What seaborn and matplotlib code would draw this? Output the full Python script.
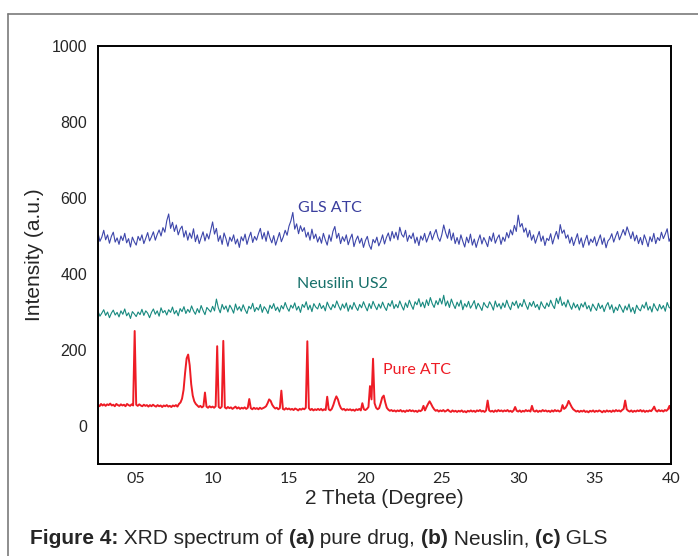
import numpy as np
import pandas as pd
import seaborn as sns
import matplotlib
matplotlib.use("Agg")
import matplotlib.pyplot as plt
from matplotlib.lines import Line2D

# ---------------- data ----------------
# GLS ATC, 2θ from 2.5 to 40.0 in 0.125° steps
gls_atc = [
    508, 486, 497, 515,
    490, 503, 481, 499, 510, 484, 495, 478,
    500, 488, 507, 482, 493, 471, 497, 485,
    476, 499, 488, 503, 480, 494, 509, 487,
    498, 511, 489, 504, 516, 500, 522, 510,
    540, 558, 520, 536, 512, 529, 503, 518,
    526, 497, 514, 489, 508, 494, 519, 485,
    503, 480, 496, 511, 487, 506, 492, 515,
    537, 505, 520, 486, 501, 478, 508, 493,
    473, 497, 486, 503, 479, 492, 470, 498,
    487, 505, 478, 496, 510, 483, 499, 489,
    506, 520, 492, 509, 486, 513, 495, 482,
    501, 476, 493, 509, 485, 498, 515, 502,
    526, 540, 562, 518, 532, 506, 527, 512,
    522, 497, 510, 489, 518, 493, 505, 484,
    498, 481, 507, 490, 476, 503, 486, 512,
    525, 494, 507, 480, 498, 486, 503, 477,
    493, 505, 472, 489, 500, 481, 494, 470,
    488, 499, 476, 465, 491, 482, 497, 474,
    486, 503, 479, 496, 508, 487, 512, 494,
    510, 490, 523, 504, 497, 515, 486, 502,
    493, 508, 481, 497, 475, 500, 489, 507,
    484, 498, 512, 490, 505, 517, 496, 486,
    503, 529, 509, 494, 518, 489, 508, 480,
    496, 478, 503, 486, 471, 497, 482, 505,
    476, 492, 470, 488, 503, 479, 496, 485,
    472, 499, 486, 508, 481, 494, 503, 478,
    497, 486, 509, 495, 516, 503, 528, 512,
    555, 524, 533, 510, 521, 497, 515, 489,
    503, 481, 497, 512, 486, 500, 475, 494,
    488, 506, 479, 497, 512, 492, 530, 507,
    516, 494, 503, 481, 497, 475, 491, 506,
    479, 495, 470, 488, 502, 476, 492, 483,
    498, 474, 489, 503, 478, 495, 469, 487,
    493, 506, 484, 499, 512, 490, 503, 517,
    502, 524, 509, 493, 511, 487, 502, 480,
    496, 477, 503, 489, 472, 498, 485, 507,
    480, 496, 488, 510, 493, 505, 519, 486,
    498,
]

# Neusilin US2, 2θ from 2.5 to 40.0 in 0.125° steps
neusilin_us2 = [
    302, 289, 297, 306,
    291, 300, 285, 297, 305, 292, 299, 287,
    303, 294, 308, 290, 298, 283, 301, 295,
    288, 300, 293, 307, 291, 303, 297, 285,
    299, 308, 294, 303, 289, 311, 298, 304,
    292, 306, 299, 313, 295, 304, 290, 309,
    301, 314, 296, 307, 299, 316, 303, 294,
    309, 298, 317, 304, 293, 312, 306, 300,
    315, 303, 334, 311, 298, 320, 307, 316,
    300, 318, 309, 297, 321, 305, 314, 302,
    319, 306, 296, 315, 308, 323, 301, 312,
    305, 320, 299, 314, 307, 296, 318, 309,
    322, 304, 313, 300, 317, 308, 325, 311,
    302, 318, 310, 324, 305, 315, 299, 320,
    312, 327, 306, 318, 301, 322, 313, 308,
    323, 309, 317, 303, 326, 314, 306, 320,
    311, 329, 316, 305, 321, 310, 324, 302,
    318, 307, 325, 313, 304, 320, 311, 327,
    314, 303, 322, 309, 328, 316, 306, 321,
    310, 326, 313, 304, 323, 315, 330, 309,
    320, 311, 329, 316, 305, 324, 312, 331,
    318, 307, 327, 319, 335, 314, 326, 311,
    332, 317, 338, 322, 312, 330, 319, 336,
    321, 344, 316, 329, 312, 334, 320, 309,
    326, 315, 331, 306, 322, 313, 328, 310,
    319, 330, 308, 323, 314, 304, 325, 316,
    311, 327, 318, 305, 329, 313, 322, 308,
    324, 312, 331, 316, 306, 326, 317, 329,
    310, 323, 314, 333, 319, 307, 325, 315,
    328, 312, 320, 306, 327, 316, 309, 324,
    314, 331, 318, 309, 336, 322, 340, 317,
    326, 313, 332, 318, 307, 324, 311, 320,
    305, 322, 313, 326, 308, 317, 302, 321,
    312, 304, 323, 309, 318, 301, 316, 325,
    307, 319, 298, 313, 304, 320, 310, 299,
    316, 305, 321, 300, 312, 296, 318, 308,
    303, 319, 310, 326, 305, 315, 300, 322,
    311, 303, 320, 308, 317, 302, 325, 312,
    309,
]

# Pure ATC, 2θ from 2.5 to 40.0 in 0.1° steps
pure_atc = [
    56, 52, 58, 54, 57,
    53, 57, 55, 59, 54, 56, 52, 58, 55, 53,
    57, 54, 56, 52, 58, 55, 53, 57, 54, 250,
    56, 53, 57, 54, 52, 56, 53, 55, 51, 55,
    52, 56, 53, 51, 55, 52, 54, 50, 54, 52,
    55, 51, 53, 50, 54, 52, 55, 51, 58, 62,
    72, 95, 140, 178, 188, 160, 110, 80, 65, 58,
    54, 50, 53, 49, 52, 88, 51, 48, 52, 49,
    51, 48, 52, 210, 50, 47, 51, 224, 49, 46,
    50, 47, 49, 45, 48, 51, 46, 49, 45, 48,
    46, 49, 45, 48, 71, 47, 44, 48, 45, 47,
    44, 48, 45, 47, 49, 52, 60, 70, 66, 56,
    50, 46, 48, 44, 47, 93, 45, 43, 47, 44,
    46, 43, 45, 42, 46, 44, 41, 45, 43, 46,
    44, 48, 223, 47, 42, 45, 41, 44, 42, 45,
    42, 45, 41, 44, 42, 77, 44, 41, 45, 55,
    68, 78, 70, 56, 47, 43, 45, 41, 44, 42,
    44, 41, 43, 40, 44, 42, 45, 41, 60, 44,
    42, 45, 50, 105, 70, 177, 60, 48, 44, 47,
    60, 75, 80, 62, 48, 43, 40, 42, 39, 41,
    38, 41, 39, 42, 38, 40, 37, 41, 39, 42,
    39, 41, 38, 40, 37, 41, 39, 42, 53, 41,
    50, 58, 65, 58, 50, 44, 40, 42, 38, 41,
    39, 42, 38, 40, 43, 39, 37, 41, 38, 40,
    37, 40, 38, 41, 37, 39, 36, 40, 38, 41,
    38, 40, 37, 41, 39, 42, 38, 40, 37, 41,
    67, 41, 38, 40, 37, 41, 38, 42, 39, 41,
    38, 41, 39, 42, 38, 40, 37, 41, 50, 40,
    38, 41, 37, 40, 38, 42, 39, 41, 38, 53,
    40, 38, 41, 37, 40, 38, 42, 39, 41, 38,
    40, 37, 41, 38, 42, 39, 41, 38, 40, 55,
    45, 48, 55, 66, 58, 50, 44, 41, 38, 40,
    37, 40, 38, 41, 37, 39, 36, 40, 38, 41,
    37, 40, 38, 41, 39, 36, 40, 37, 41, 38,
    40, 37, 41, 38, 42, 39, 41, 38, 42, 45,
    67, 44, 40, 38, 41, 37, 40, 38, 41, 39,
    42, 38, 41, 37, 40, 38, 41, 39, 44, 51,
    41, 38, 42, 39, 41, 38, 42, 40, 44, 53,
    41,
]

scan_start = 2.5
step_amorphous = 0.125
step_pure = 0.1

x_ticks = [5, 10, 15, 20, 25, 30, 35, 40]
x_tick_labels = ["05", "10", "15", "20", "25", "30", "35", "40"]
y_ticks = [0, 200, 400, 600, 800, 1000]
series_names = ["GLS ATC", "Neusilin US2", "Pure ATC"]

# ---------------- tables ----------------
x_gls = np.round(scan_start + step_amorphous * np.arange(len(gls_atc)), 4)
x_neu = np.round(scan_start + step_amorphous * np.arange(len(neusilin_us2)), 4)
x_pure = np.round(scan_start + step_pure * np.arange(len(pure_atc)), 4)

df_gls = pd.DataFrame({"theta": x_gls, "intensity": gls_atc})
df_neu = pd.DataFrame({"theta": x_neu, "intensity": neusilin_us2})
df_pure = pd.DataFrame({"theta": x_pure, "intensity": pure_atc})

# ---------------- style ----------------
sns.set_style("white")
plt.rcParams["font.family"] = ["Liberation Sans", "DejaVu Sans"]

blue = "#3d46aa"
teal = "#17897f"
red = "#ee1c25"

fig = plt.figure(figsize=(6.98, 5.56), dpi=100)
ax = fig.add_axes([98 / 698, 1 - 464 / 556, (671 - 98) / 698, (464 - 46) / 556])

sns.lineplot(data=df_gls, x="theta", y="intensity", color=blue, lw=0.8, ax=ax)
sns.lineplot(data=df_neu, x="theta", y="intensity", color=teal, lw=0.8, ax=ax)
sns.lineplot(data=df_pure, x="theta", y="intensity", color=red, lw=1.4, ax=ax)

ax.set_xlim(2.5, 40)
ax.set_ylim(-100, 1000)
ax.set_xticks(x_ticks)
ax.set_xticklabels(x_tick_labels, fontfamily="Lato", fontsize=11.5)
ax.set_yticks(y_ticks)
ax.tick_params(axis="y", direction="in", length=5, width=1.2, labelsize=11.5, pad=8)
ax.tick_params(axis="x", direction="in", length=5, width=1.2, pad=6)
for sp in ax.spines.values():
    sp.set_visible(True)
    sp.set_color("black")
    sp.set_linewidth(1.4)

ax.set_xlabel("2 Theta (Degree)", fontsize=15, labelpad=2)
ax.set_ylabel("Intensity (a.u.)", fontsize=15, labelpad=5)

lab_font = dict(fontfamily="Lato", fontsize=11.5, ha="center", va="center")
ax.text(17.7, 574, series_names[0], color="#3b3f9e", **lab_font)
ax.text(18.5, 374, series_names[1], color="#17706a", **lab_font)
ax.text(23.4, 147, series_names[2], color=red, **lab_font)

# outer frame of figure panel
fig.add_artist(Line2D([8 / 698, 8 / 698], [0, 1 - 14 / 556], transform=fig.transFigure,
                      color="#7a7a7a", lw=1.2))
fig.add_artist(Line2D([8 / 698, 1], [1 - 14 / 556, 1 - 14 / 556], transform=fig.transFigure,
                      color="#7a7a7a", lw=1.2))

# caption with mixed bold / regular pieces
pieces = [("Figure 4:", "bold"), (" XRD spectrum of ", "normal"), ("(a)", "bold"),
          (" pure drug, ", "normal"), ("(b)", "bold"), (" Neuslin, ", "normal"),
          ("(c)", "bold"), (" GLS", "normal")]
renderer = fig.canvas.get_renderer()
xpos = 30
for txt, wt in pieces:
    t = fig.text(xpos / 698, 1 - 539 / 556, txt, fontsize=15, fontweight=wt,
                 ha="left", va="center")
    bb = t.get_window_extent(renderer=renderer)
    xpos += bb.width

fig.savefig("out.png", dpi=100)
